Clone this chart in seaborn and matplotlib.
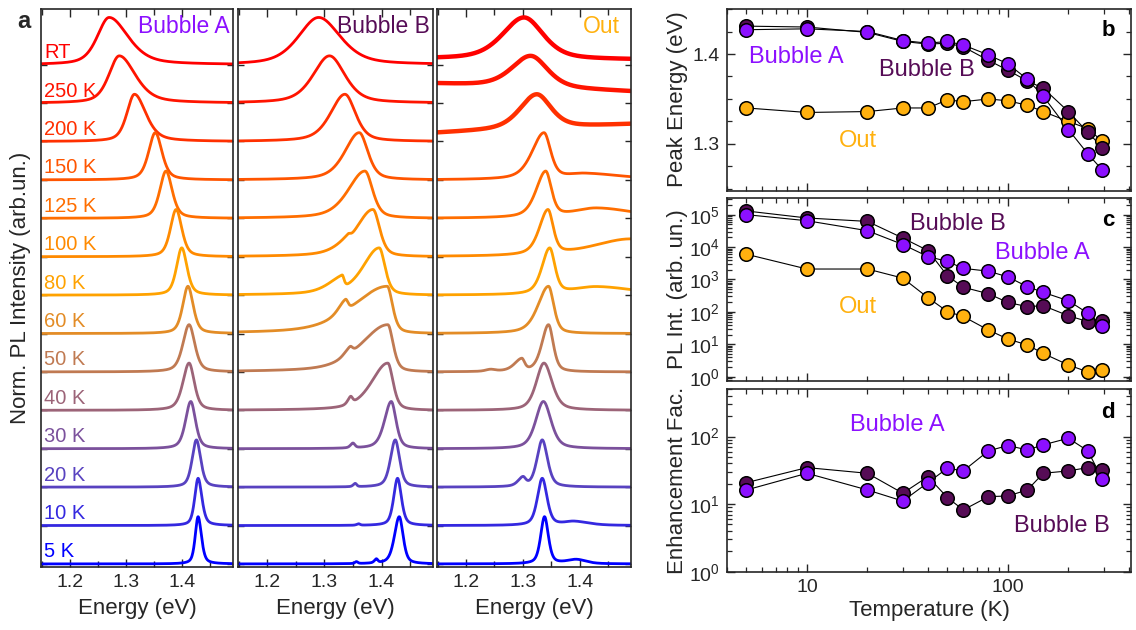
import numpy as np
import pandas as pd
import matplotlib
matplotlib.use('Agg')
import matplotlib.pyplot as plt
import seaborn as sns
from matplotlib.ticker import MultipleLocator, NullFormatter, FixedLocator

sns.set_style('ticks')
plt.rcParams['font.family'] = ['Liberation Sans', 'DejaVu Sans']
plt.rcParams['mathtext.fontset'] = 'custom'
plt.rcParams['mathtext.rm'] = 'Liberation Sans'
plt.rcParams['mathtext.it'] = 'Liberation Sans'

# ---- panel a: PL spectra (peak parameters) ----
temp_labels = ['RT', '250 K', '200 K', '150 K', '125 K', '100 K', '80 K',
               '60 K', '50 K', '40 K', '30 K', '20 K', '10 K', '5 K']
temp_colors = ['#ff0000', '#ff1400', '#ff3000', '#ff5500', '#ff6e00', '#ff8a00', '#ffa200',
               '#e38c26', '#c07a52', '#9c6478', '#7b519c', '#5842c0', '#3428e0', '#0000ff']

# Bubble A: centre, left / right half widths (eV)
cen_A = [1.270, 1.288, 1.315, 1.352, 1.371, 1.389, 1.399, 1.410, 1.412, 1.412, 1.415, 1.425, 1.428, 1.428]
wl_A = [0.025, 0.022, 0.016, 0.014, 0.013, 0.012, 0.011, 0.011, 0.013, 0.013, 0.011, 0.009, 0.007, 0.006]
wr_A = [0.040, 0.034, 0.024, 0.014, 0.013, 0.012, 0.011, 0.011, 0.012, 0.011, 0.010, 0.009, 0.008, 0.007]

# Bubble B
cen_B = [1.290, 1.309, 1.336, 1.361, 1.371, 1.385, 1.396, 1.410, 1.411, 1.411, 1.417, 1.424, 1.428, 1.431]
wl_B = [0.042, 0.034, 0.030, 0.030, 0.035, 0.035, 0.034, 0.070, 0.055, 0.034, 0.014, 0.010, 0.008, 0.010]
wr_B = [0.045, 0.032, 0.022, 0.018, 0.016, 0.014, 0.012, 0.011, 0.011, 0.011, 0.010, 0.009, 0.008, 0.008]
side_B = {'100 K': [(1.341, 0.030, 0.005, 0.12)],
          '80 K': [(1.331, 0.030, 0.004, 0.28)],
          '60 K': [(1.337, 0.015, 0.005, 0.25)],
          '50 K': [(1.345, 0.012, 0.005, 0.15)],
          '40 K': [(1.346, 0.006, 0.004, 0.15)],
          '30 K': [(1.350, 0.005, 0.004, 0.10)],
          '20 K': [(1.354, 0.004, 0.003, 0.07)],
          '10 K': [(1.360, 0.004, 0.003, 0.03)],
          '5 K': [(1.356, 0.003, 0.003, 0.04), (1.391, 0.004, 0.003, 0.08)]}

# Out
cen_O = [1.302, 1.314, 1.324, 1.337, 1.340, 1.344, 1.347, 1.345, 1.345, 1.337, 1.336, 1.334, 1.334, 1.338]
wl_O = [0.045, 0.040, 0.035, 0.025, 0.020, 0.018, 0.016, 0.022, 0.014, 0.016, 0.016, 0.011, 0.010, 0.008]
wr_O = [0.040, 0.035, 0.030, 0.014, 0.012, 0.011, 0.011, 0.011, 0.010, 0.017, 0.016, 0.011, 0.010, 0.008]
bgl_O = [0.15, 0.50, 0.22, 0, 0, 0, 0, 0, 0, 0, 0, 0, 0, 0]
bgr_O = [0.13, 0.30, 0.45, 0, 0, 0, 0, 0, 0, 0, 0, 0, 0, 0]
side_O = {'150 K': [(1.41, 0.04, 0.08, 0.13)],
          '125 K': [(1.43, 0.05, 0.08, 0.22)],
          '100 K': [(1.49, 0.08, 0.05, 0.40)],
          '80 K': [(1.43, 0.05, 0.08, 0.18)],
          '50 K': [(1.298, 0.015, 0.006, 0.25), (1.243, 0.01, 0.01, 0.04)],
          '20 K': [(1.300, 0.010, 0.006, 0.18)],
          '10 K': [(1.39, 0.02, 0.03, 0.08)],
          '5 K': [(1.394, 0.02, 0.02, 0.09)]}

# ---- panels b-d ----
temperature = [5, 10, 20, 30, 40, 50, 60, 80, 100, 125, 150, 200, 250, 295]
peak_A = [1.427, 1.428, 1.425, 1.415, 1.412, 1.414, 1.410, 1.399, 1.389, 1.372, 1.353, 1.316, 1.289, 1.271]
peak_B = [1.431, 1.430, 1.424, 1.414, 1.411, 1.412, 1.408, 1.393, 1.382, 1.370, 1.362, 1.336, 1.313, 1.296]
peak_Out = [1.340, 1.335, 1.336, 1.340, 1.340, 1.349, 1.347, 1.350, 1.348, 1.343, 1.336, 1.325, 1.317, 1.303]
int_A = [1.0e5, 6.5e4, 3.2e4, 1.2e4, 5.1e3, 3.6e3, 2.2e3, 1.8e3, 1.2e3, 600, 400, 220, 91, 37]
int_B = [1.3e5, 7.9e4, 6.2e4, 1.9e4, 7.8e3, 1.3e3, 575, 363, 195, 145, 155, 76, 50, 52]
int_Out = [6.0e3, 2.1e3, 2.1e3, 1.1e3, 275, 102, 72, 27.5, 14.5, 9.5, 5.2, 2.3, 1.4, 1.55]
enh_A = [16.2, 28.6, 16.2, 11.1, 20.8, 34.0, 31.0, 61.4, 73.6, 63.4, 75.3, 94.4, 61.4, 23.6]
enh_B = [20.8, 34.7, 28.6, 14.5, 25.5, 12.5, 8.2, 12.9, 13.2, 16.2, 28.6, 31.0, 34.7, 32.1]

col_A = '#8c10ff'
col_B = '#560c56'
col_Out = '#ffb10f'

energy = np.linspace(1.149, 1.49, 700)
n = len(temp_labels)
offsets = [n - 1 - i for i in range(n)]
H = 1.23


def shape(E, c, wl, wr, eta=0.5):
    w = np.where(E < c, wl, wr)
    u = (E - c) / w
    return eta / (1 + u ** 2) + (1 - eta) * np.exp(-np.log(2) * u ** 2)


def build(cen, wl, wr, side, bgl=None, bgr=None):
    rows = []
    for i, lab in enumerate(temp_labels):
        prof = shape(energy, cen[i], wl[i], wr[i])
        for (c, a, b, amp) in side.get(lab, []):
            prof = prof + amp * shape(energy, c, a, b)
        prof = prof / prof.max()
        bg = np.zeros_like(energy)
        if bgl is not None:
            bg = bgl[i] + (bgr[i] - bgl[i]) * (energy - energy[0]) / (energy[-1] - energy[0])
        bpk = bg[np.argmax(prof)]
        y = offsets[i] + bg + (H - bpk) * prof
        rows.append(pd.DataFrame({'energy': energy, 'intensity': y, 'temp': lab}))
    return pd.concat(rows)


spec = [build(cen_A, wl_A, wr_A, {}),
        build(cen_B, wl_B, wr_B, side_B),
        build(cen_O, wl_O, wr_O, side_O, bgl_O, bgr_O)]
titles = [('Bubble A', col_A), ('Bubble B', col_B), ('Out', col_Out)]

fig = plt.figure(figsize=(11.36, 6.3), dpi=100)
W, Hf = 1136, 630


def rect(x0, x1, y0, y1):
    return [x0 / W, 1 - y1 / Hf, (x1 - x0) / W, (y1 - y0) / Hf]


spec_axes = [fig.add_axes(rect(41, 233, 9, 567)),
             fig.add_axes(rect(238, 433, 9, 567)),
             fig.add_axes(rect(437, 631, 9, 567))]

for k, ax in enumerate(spec_axes):
    df = spec[k]
    for i, lab in enumerate(temp_labels):
        lw = 2.0
        if k == 2 and i < 3:
            lw = 3.2
        sns.lineplot(data=df[df.temp == lab], x='energy', y='intensity', color=temp_colors[i],
                     lw=lw, ax=ax, estimator=None)
    ax.set_xlim(1.149, 1.49)
    ax.set_ylim(-0.08, 14.45)
    ax.xaxis.set_major_locator(FixedLocator([1.2, 1.3, 1.4]))
    ax.xaxis.set_minor_locator(MultipleLocator(0.05))
    ax.set_xticklabels(['1.2', '1.3', '1.4'])
    ax.set_yticks(offsets)
    ax.set_yticklabels([])
    ax.tick_params(which='both', direction='in', top=True, right=True, left=True, width=1)
    ax.tick_params(axis='x', which='major', length=6, labelsize=14, pad=5)
    ax.tick_params(axis='x', which='minor', length=4)
    ax.tick_params(axis='y', length=4)
    ax.set_xlabel('Energy (eV)', fontsize=16)
    ax.xaxis.set_label_coords(0.5, -0.056)
    ax.set_ylabel('')
    for s in ax.spines.values():
        s.set_linewidth(1.2)
    t, c = titles[k]
    ax.text(0.985 if k != 2 else 0.945, 0.968, t, color=c, fontsize=16.5,
            ha='right', va='center', transform=ax.transAxes)

ax0 = spec_axes[0]
ax0.set_ylabel('Norm. PL Intensity (arb.un.)', fontsize=16)
ax0.yaxis.set_label_coords(-0.05, 0.5)
for i, lab in enumerate(temp_labels):
    ax0.text(1.155, offsets[i] + 0.17, lab, color=temp_colors[i], fontsize=14.5,
             ha='left', va='baseline')
fig.text(17 / W, 1 - 22 / Hf, 'a', fontsize=17, fontweight='bold', ha='left', va='center')

# ---- right panels ----
ax_b = fig.add_axes(rect(727, 1131, 8.5, 190.7))
ax_c = fig.add_axes(rect(727, 1131, 198, 380.7))
ax_d = fig.add_axes(rect(727, 1131, 389.3, 571.7))


def series(ax, y, color):
    sns.lineplot(x=temperature, y=y, color='black', lw=0.8, ax=ax, zorder=1, estimator=None)
    sns.scatterplot(x=temperature, y=y, color=color, s=95, edgecolor='black',
                    linewidth=1.1, ax=ax, zorder=3, legend=False)


series(ax_b, peak_Out, col_Out)
series(ax_b, peak_B, col_B)
series(ax_b, peak_A, col_A)
series(ax_c, int_Out, col_Out)
series(ax_c, int_B, col_B)
series(ax_c, int_A, col_A)
series(ax_d, enh_B, col_B)
series(ax_d, enh_A, col_A)

minor_T = [m * 10 ** d for d in range(0, 3) for m in range(2, 10) if 4 <= m * 10 ** d <= 410 and m * 10 ** d not in (10, 100)]


def log_minor(lo, hi):
    return [m * 10.0 ** d for d in range(lo, hi) for m in range(2, 10)]


for ax in (ax_b, ax_c, ax_d):
    ax.set_xscale('log')
    ax.set_xlim(4, 410)
    ax.xaxis.set_major_locator(FixedLocator([10, 100]))
    ax.xaxis.set_minor_locator(FixedLocator(minor_T))
    ax.xaxis.set_minor_formatter(NullFormatter())
    ax.tick_params(which='both', direction='in', top=True, right=True, width=1)
    ax.tick_params(which='major', length=6, labelsize=14, pad=5)
    ax.tick_params(which='minor', length=3.5, width=0.9)
    for s in ax.spines.values():
        s.set_linewidth(1.2)

ax_b.set_ylim(1.248, 1.4506)
ax_b.yaxis.set_major_locator(FixedLocator([1.3, 1.4]))
ax_b.yaxis.set_minor_locator(MultipleLocator(0.025))
ax_b.set_yticklabels(['1.3', '1.4'])
ax_b.set_xticklabels([])
ax_b.set_ylabel('Peak Energy (eV)', fontsize=16)

ax_c.set_yscale('log')
ax_c.set_ylim(0.75, 3.27e5)
ax_c.yaxis.set_major_locator(FixedLocator([1, 10, 100, 1e3, 1e4, 1e5]))
ax_c.set_yticklabels([r'$10^{%d}$' % p for p in range(6)])
ax_c.yaxis.set_minor_locator(FixedLocator(log_minor(-1, 6)))
ax_c.yaxis.set_minor_formatter(NullFormatter())
ax_c.set_xticklabels([])
ax_c.set_ylabel('PL Int. (arb. un.)', fontsize=16)

ax_d.set_yscale('log')
ax_d.set_ylim(1, 500)
ax_d.yaxis.set_major_locator(FixedLocator([1, 10, 100]))
ax_d.set_yticklabels([r'$10^{%d}$' % p for p in range(3)])
ax_d.yaxis.set_minor_locator(FixedLocator(log_minor(0, 3)))
ax_d.yaxis.set_minor_formatter(NullFormatter())
ax_d.set_xticklabels(['10', '100'])
ax_d.set_ylabel('Enhancement Fac.', fontsize=16)
ax_d.set_xlabel('Temperature (K)', fontsize=16)
ax_d.xaxis.set_label_coords(0.5, -0.155)

for ax in (ax_b, ax_c, ax_d):
    ax.yaxis.set_label_coords(-0.097, 0.5)


# labels in the right panels (pixel positions converted to figure fractions)
def ftext(x, y, s, c, **kw):
    fig.text(x / W, 1 - y / Hf, s, color=c, ha='center', va='center', **kw)


ftext(796, 57, 'Bubble A', col_A, fontsize=17)
ftext(927, 70, 'Bubble B', col_B, fontsize=17)
ftext(858, 141, 'Out', col_Out, fontsize=17)
ftext(958, 224, 'Bubble B', col_B, fontsize=17)
ftext(1042, 253, 'Bubble A', col_A, fontsize=17)
ftext(858, 307, 'Out', col_Out, fontsize=17)
ftext(897, 425, 'Bubble A', col_A, fontsize=17)
ftext(1062, 526, 'Bubble B', col_B, fontsize=17)
ftext(1108, 30, 'b', 'black', fontsize=16, fontweight='bold')
ftext(1108, 221, 'c', 'black', fontsize=16, fontweight='bold')
ftext(1108, 412, 'd', 'black', fontsize=16, fontweight='bold')

fig.savefig('out.png', dpi=100)
